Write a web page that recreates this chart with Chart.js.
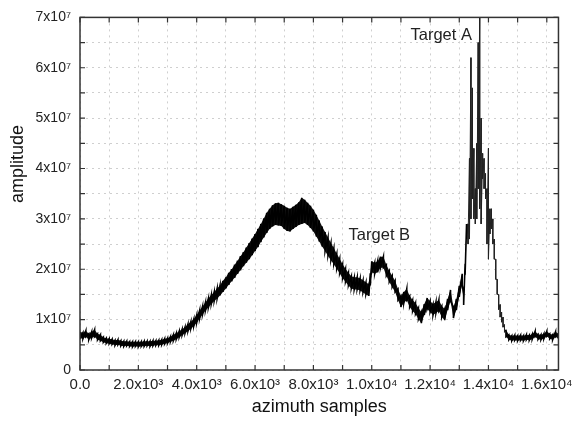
<!DOCTYPE html>
<html>
<head>
<meta charset="utf-8">
<script src="https://cdn.jsdelivr.net/npm/chart.js@4/dist/chart.umd.min.js"></script>
<style>
  html, body { margin: 0; padding: 0; background: #fff; }
  canvas { display: block; }
</style>
</head>
<body>
<canvas id="myChart" width="579" height="429"></canvas>
<script>
// azimuth sample positions
var xs = [
  0, 100, 200, 300, 400, 500, 600, 700, 800, 900,
  1000, 1100, 1200, 1300, 1400, 1500, 1600, 1700, 1800, 1900,
  2000, 2100, 2200, 2300, 2400, 2500, 2600, 2700, 2800, 2900,
  3000, 3100, 3200, 3300, 3400, 3500, 3600, 3700, 3800, 3900,
  4000, 4100, 4200, 4300, 4400, 4500, 4600, 4700, 4800, 4900,
  5000, 5100, 5200, 5300, 5400, 5500, 5600, 5700, 5800, 5900,
  6000, 6100, 6200, 6300, 6400, 6500, 6600, 6700, 6800, 6900,
  7000, 7100, 7200, 7300, 7400, 7500, 7600, 7700, 7800, 7900,
  8000, 8100, 8200, 8300, 8400, 8500, 8600, 8700, 8800, 8900,
  9000, 9100, 9200, 9300, 9400, 9500, 9600, 9700, 9800, 9900,
  9950,
  10000, 10100, 10200, 10300, 10400, 10500, 10600, 10700, 10800, 10900,
  11000, 11100, 11200, 11300, 11400, 11500, 11600, 11700, 11800, 11900,
  12000, 12100, 12200, 12300, 12400, 12500, 12600, 12700, 12800, 12900,
  13000, 13100,
  13150, 13200, 13250, 13300, 13350, 13400, 13450, 13500, 13550, 13600,
  13650, 13700, 13750, 13800, 13850, 13900, 13950, 14000, 14050, 14100,
  14150, 14200, 14250, 14300, 14350, 14400, 14450, 14500, 14550, 14600,
  14700, 14800, 14900, 15000, 15100, 15200, 15300, 15400, 15500, 15600,
  15700, 15800, 15900, 16000, 16100, 16200, 16300, 16400
];

// upper edge of the noisy amplitude (x10^7)
var hi = [
  0.76, 0.74, 0.78, 0.72, 0.76, 0.80, 0.72, 0.70, 0.65, 0.63,
  0.62, 0.61, 0.59, 0.60, 0.58, 0.57, 0.57, 0.56, 0.56, 0.56,
  0.56, 0.56, 0.57, 0.57, 0.57, 0.58, 0.58, 0.59, 0.60, 0.62,
  0.63, 0.66, 0.70, 0.73, 0.77, 0.81, 0.85, 0.91, 0.96, 1.01,
  1.09, 1.18, 1.26, 1.34, 1.42, 1.49, 1.55, 1.62, 1.68, 1.77,
  1.84, 1.93, 2.00, 2.09, 2.17, 2.26, 2.34, 2.43, 2.52, 2.61,
  2.70, 2.80, 2.90, 3.01, 3.12, 3.20, 3.27, 3.31, 3.32, 3.29,
  3.26, 3.22, 3.20, 3.24, 3.28, 3.33, 3.42, 3.38, 3.32, 3.26,
  3.18, 3.08, 2.97, 2.85, 2.74, 2.63, 2.52, 2.42, 2.31, 2.21,
  2.10, 2.01, 1.93, 1.86, 1.84, 1.84, 1.82, 1.78, 1.74, 1.70,
  1.92,
  2.16, 2.13, 2.16, 2.25, 2.25, 2.09, 1.97, 1.87, 1.77, 1.61,
  1.47, 1.55, 1.61, 1.47, 1.39, 1.33, 1.23, 1.15, 1.31, 1.43,
  1.37, 1.31, 1.35, 1.39, 1.27, 1.21, 1.41, 1.59, 1.25, 1.41,
  1.67, 1.91,
  1.51, 2.11, 2.90, 2.90, 4.20, 6.20, 5.60, 4.40, 3.60, 4.50,
  6.50, 7.10, 5.00, 4.30, 4.20, 3.90, 3.60, 4.40, 3.20, 3.20,
  3.00, 2.60, 2.20, 1.80, 1.50, 1.30, 1.15, 1.05, 0.90, 0.80,
  0.70, 0.68, 0.69, 0.68, 0.69, 0.68, 0.70, 0.69, 0.71, 0.77,
  0.71, 0.70, 0.72, 0.77, 0.72, 0.70, 0.76, 0.72
];

// lower edge of the noisy amplitude (x10^7)
var lo = [
  0.63, 0.62, 0.66, 0.60, 0.64, 0.66, 0.60, 0.58, 0.55, 0.53,
  0.52, 0.51, 0.49, 0.50, 0.48, 0.47, 0.48, 0.47, 0.46, 0.47,
  0.46, 0.47, 0.47, 0.48, 0.47, 0.48, 0.49, 0.49, 0.50, 0.52,
  0.53, 0.56, 0.58, 0.61, 0.65, 0.69, 0.73, 0.77, 0.82, 0.87,
  0.94, 1.02, 1.10, 1.18, 1.24, 1.31, 1.37, 1.42, 1.48, 1.55,
  1.62, 1.69, 1.76, 1.83, 1.91, 1.98, 2.06, 2.13, 2.20, 2.28,
  2.36, 2.44, 2.54, 2.63, 2.72, 2.80, 2.85, 2.88, 2.87, 2.86,
  2.80, 2.76, 2.75, 2.80, 2.84, 2.88, 2.90, 2.92, 2.88, 2.82,
  2.75, 2.65, 2.55, 2.45, 2.36, 2.27, 2.18, 2.10, 2.01, 1.92,
  1.82, 1.75, 1.68, 1.62, 1.60, 1.60, 1.58, 1.54, 1.50, 1.47,
  1.68,
  1.94, 1.91, 1.94, 2.03, 2.03, 1.87, 1.75, 1.65, 1.55, 1.39,
  1.25, 1.33, 1.39, 1.25, 1.17, 1.11, 1.01, 0.93, 1.09, 1.21,
  1.15, 1.09, 1.13, 1.17, 1.05, 0.99, 1.19, 1.37, 1.03, 1.19,
  1.45, 1.69,
  1.29, 1.89, 2.60, 2.50, 2.60, 3.00, 3.40, 3.00, 2.90, 3.00,
  3.60, 3.20, 2.90, 3.80, 3.60, 3.40, 2.50, 2.20, 2.70, 2.80,
  2.50, 2.20, 1.80, 1.50, 1.20, 1.05, 0.95, 0.85, 0.75, 0.66,
  0.60, 0.58, 0.59, 0.58, 0.59, 0.58, 0.60, 0.59, 0.61, 0.66,
  0.61, 0.60, 0.62, 0.67, 0.62, 0.60, 0.66, 0.62
];

var xTickVals = [0, 1000, 2000, 3000, 4000, 5000, 6000, 7000, 8000, 9000, 10000, 11000, 12000, 13000, 14000, 15000, 16000];
var xTickLabels = ['0.0', '', '2.0x10\u00B3', '', '4.0x10\u00B3', '', '6.0x10\u00B3', '', '8.0x10\u00B3', '',
  '1.0x10\u2074', '', '1.2x10\u2074', '', '1.4x10\u2074', '', '1.6x10\u2074'];
var yTickVals = [0, 0.5, 1, 1.5, 2, 2.5, 3, 3.5, 4, 4.5, 5, 5.5, 6, 6.5, 7];
var yTickLabels = ['0', '', '1x10\u2077', '', '2x10\u2077', '', '3x10\u2077', '', '4x10\u2077', '',
  '5x10\u2077', '', '6x10\u2077', '', '7x10\u2077'];

// annotation text anchored in data units
var notes = [
  { text: 'Target A', x: 12380, y: 6.64 },
  { text: 'Target B', x: 10260, y: 2.67 }
];

// the spiky part (Target A) is drawn with a thin pen and no solid band
var thinFrom = 13300, thinTo = 14600;

function inThin(x) { return x >= thinFrom && x < thinTo; }

var points = [];
xs.forEach(function (x, i) {
  points.push({ x: x, y: hi[i] });
  points.push({ x: x, y: lo[i] });
});
var hiPts = xs.map(function (x, i) { return { x: x, y: hi[i] }; });
var loPts = xs.map(function (x, i) { return { x: x, y: lo[i] }; });

var FONT = '"Liberation Sans", Arial, sans-serif';

var framePlugin = {
  id: 'frame',
  afterDatasetsDraw: function (chart) {
    var ctx = chart.ctx;
    var a = chart.chartArea;
    var sx = chart.scales.x, sy = chart.scales.y;
    ctx.save();
    ctx.strokeStyle = '#333';
    ctx.lineWidth = 1.5;
    ctx.strokeRect(a.left, a.top, a.right - a.left, a.bottom - a.top);

    ctx.lineWidth = 1.2;
    ctx.beginPath();
    xTickVals.forEach(function (v) {
      var px = sx.getPixelForValue(v);
      ctx.moveTo(px, a.bottom); ctx.lineTo(px, a.bottom - 5);
      ctx.moveTo(px, a.top); ctx.lineTo(px, a.top + 5);
    });
    yTickVals.forEach(function (v) {
      var py = sy.getPixelForValue(v);
      ctx.moveTo(a.left, py); ctx.lineTo(a.left + 5, py);
      ctx.moveTo(a.right, py); ctx.lineTo(a.right - 5, py);
    });
    ctx.stroke();

    // annotations
    ctx.fillStyle = '#222';
    ctx.font = '16.5px ' + FONT;
    ctx.textAlign = 'center';
    ctx.textBaseline = 'middle';
    notes.forEach(function (n) {
      ctx.fillText(n.text, sx.getPixelForValue(n.x), sy.getPixelForValue(n.y));
    });

    // axis titles
    ctx.fillStyle = '#111';
    ctx.font = '18px ' + FONT;
    ctx.fillText('azimuth samples', (a.left + a.right) / 2, 407);
    ctx.translate(18, 164);
    ctx.rotate(-Math.PI / 2);
    ctx.fillText('amplitude', 0, 0);
    ctx.restore();
  }
};

var chartArea = document.getElementById('myChart').getContext('2d');
var myChart = new Chart(chartArea, {
  type: 'line',
  data: {
    datasets: [{
      label: 'amplitude',
      data: points,
      borderColor: '#000',
      borderWidth: 1.6,
      pointRadius: 0,
      tension: 0,
      fill: false,
      order: 1,
      segment: {
        borderWidth: function (c) { return inThin(c.p0.parsed.x) ? 1 : 1.6; },
        borderColor: function (c) { return inThin(c.p0.parsed.x) ? '#222' : '#000'; }
      }
    }, {
      label: 'upper',
      data: hiPts,
      borderWidth: 0,
      borderColor: 'rgba(0,0,0,0)',
      backgroundColor: '#111',
      pointRadius: 0,
      tension: 0,
      fill: '+1',
      order: 2,
      segment: {
        backgroundColor: function (c) {
          return (inThin(c.p0.parsed.x) || inThin(c.p1.parsed.x)) ? 'rgba(0,0,0,0)' : '#111';
        }
      }
    }, {
      label: 'lower',
      data: loPts,
      borderWidth: 0,
      borderColor: 'rgba(0,0,0,0)',
      pointRadius: 0,
      tension: 0,
      fill: false,
      order: 3
    }]
  },
  options: {
    responsive: false,
    animation: false,
    events: [],
    layout: {
      padding: { top: 14, right: 19, left: 0, bottom: 0 }
    },
    scales: {
      x: {
        type: 'linear',
        min: 0,
        max: 16400,
        afterBuildTicks: function (scale) {
          scale.ticks = xTickVals.map(function (v) { return { value: v }; });
        },
        afterFit: function (scale) { scale.height = 59; },
        grid: {
          color: '#cfcfcf',
          lineWidth: 1,
          drawTicks: false,
        },
        border: { display: false, dash: [2, 4] },
        ticks: {
          autoSkip: false,
          maxRotation: 0,
          padding: 6,
          color: '#222',
          font: { family: FONT, size: 15 },
          callback: function (value, index) { return xTickLabels[index]; }
        }
      },
      y: {
        min: 0,
        max: 7,
        afterBuildTicks: function (scale) {
          scale.ticks = yTickVals.map(function (v) { return { value: v }; });
        },
        afterFit: function (scale) { scale.width = 80; },
        grid: {
          color: '#cfcfcf',
          lineWidth: 1,
          drawTicks: false,
        },
        border: { display: false, dash: [2, 4] },
        ticks: {
          autoSkip: false,
          padding: 9,
          color: '#222',
          font: { family: FONT, size: 14 },
          callback: function (value, index) { return yTickLabels[index]; }
        }
      }
    },
    plugins: {
      legend: { display: false },
      tooltip: { enabled: false },
      title: { display: false },
      filler: { propagate: false }
    }
  },
  plugins: [framePlugin]
});
</script>
</body>
</html>
